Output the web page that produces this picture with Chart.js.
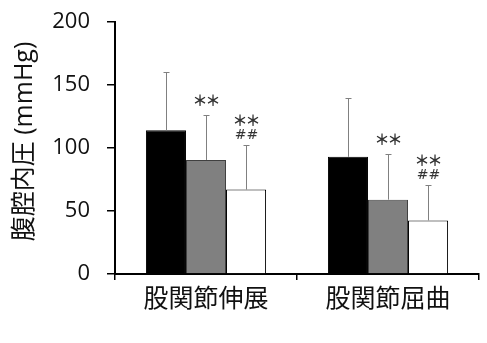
<!DOCTYPE html>
<html>
<head>
<meta charset="utf-8">
<script src="https://cdn.jsdelivr.net/npm/chart.js@4.4.0/dist/chart.umd.min.js"></script>
<style>
  html, body { margin: 0; padding: 0; background: #fff; }
  #wrap { width: 487px; height: 343px; }
</style>
</head>
<body>
<div id="wrap"><canvas id="chart" width="487" height="343"></canvas></div>
<script>
// categories and values
var categories = ['股関節伸展', '股関節屈曲'];
var blackVals = [114, 93];
var grayVals = [90.5, 59];
var whiteVals = [67, 42.5];
// SD (upper error bar only)
var blackSD = [46, 46.5];
var graySD = [35.5, 36];
var whiteSD = [35, 28];
// significance marks per dataset / category
var starMarks = [['', ''], ['**', '**'], ['**', '**']];
var hashMarks = [['', ''], ['', ''], ['##', '##']];
var yTicks = [0, 50, 100, 150, 200];

var sds = [blackSD, graySD, whiteSD];
var FONT = '"Open Sans", "Noto Sans CJK JP", sans-serif';
var CJK = '"Noto Sans CJK JP", sans-serif';

var errorBars = {
  id: 'errorBars',
  afterDatasetsDraw: function(chart) {
    var ctx = chart.ctx;
    var y = chart.scales.y;
    ctx.save();
    chart.data.datasets.forEach(function(ds, i) {
      var meta = chart.getDatasetMeta(i);
      meta.data.forEach(function(bar, j) {
        var top = y.getPixelForValue(ds.data[j] + sds[i][j]);
        var base = y.getPixelForValue(ds.data[j]);
        var x = Math.round(bar.x) + 0.5;
        ctx.strokeStyle = '#808080';
        ctx.lineWidth = 1;
        ctx.beginPath();
        ctx.moveTo(x, base);
        ctx.lineTo(x, top);
        ctx.moveTo(x - 3, Math.round(top) + 0.5);
        ctx.lineTo(x + 3, Math.round(top) + 0.5);
        ctx.stroke();

        ctx.fillStyle = '#333';
        ctx.textAlign = 'center';
        ctx.textBaseline = 'middle';
        var hasHash = hashMarks[i][j] !== '';
        if (hasHash) {
          ctx.font = '14px "DejaVu Sans", sans-serif';
          ctx.fillText(hashMarks[i][j], x, top - 10);
        }
        var stars = starMarks[i][j];
        if (stars !== '') {
          ctx.font = 'bold 15px ' + CJK;
          var sy = top - (hasHash ? 25 : 15);
          for (var k = 0; k < stars.length; k++) {
            ctx.fillText('＊', x + (k - (stars.length - 1) / 2) * 13, sy);
          }
        }
      });
    });
    ctx.restore();
  }
};

new Chart(document.getElementById('chart'), {
  type: 'bar',
  data: {
    labels: categories,
    datasets: [
      { data: blackVals, backgroundColor: '#000000', borderColor: '#000000', borderWidth: 1 },
      { data: grayVals, backgroundColor: '#808080', borderColor: '#404040', borderWidth: 1 },
      { data: whiteVals, backgroundColor: '#ffffff', borderColor: '#000000', borderWidth: 1 }
    ]
  },
  options: {
    responsive: false,
    animation: false,
    layout: { padding: { top: 22, right: 8, bottom: 0, left: 0 } },
    datasets: { bar: { barPercentage: 1, categoryPercentage: 0.66 } },
    plugins: { legend: { display: false }, tooltip: { enabled: false } },
    scales: {
      x: {
        afterFit: function(s) { s.height = 69; s.paddingLeft = 0; s.paddingRight = 0; },
        grid: { offset: true, drawOnChartArea: false, drawTicks: true, tickLength: 6, color: '#000', lineWidth: 1.5 },
        border: { color: '#000', width: 2 },
        ticks: { color: '#111', padding: 2, font: { family: CJK, size: 25 } }
      },
      y: {
        min: 0,
        max: 200,
        afterFit: function(s) { s.width = 115; s.paddingTop = 0; s.paddingBottom = 0; },
        afterBuildTicks: function(s) { s.ticks = yTicks.map(function(v) { return { value: v }; }); },
        grid: { drawOnChartArea: false, drawTicks: true, tickLength: 8, color: '#000', lineWidth: 1.5 },
        border: { color: '#000', width: 2 },
        ticks: { color: '#111', padding: 17, font: { family: FONT, size: 22 } },
        title: { display: true, text: '  腹腔内圧 (mmHg)', color: '#111', font: { family: FONT, size: 25 }, padding: { top: 10, bottom: 0 } }
      }
    }
  },
  plugins: [errorBars]
});
</script>
</body>
</html>
